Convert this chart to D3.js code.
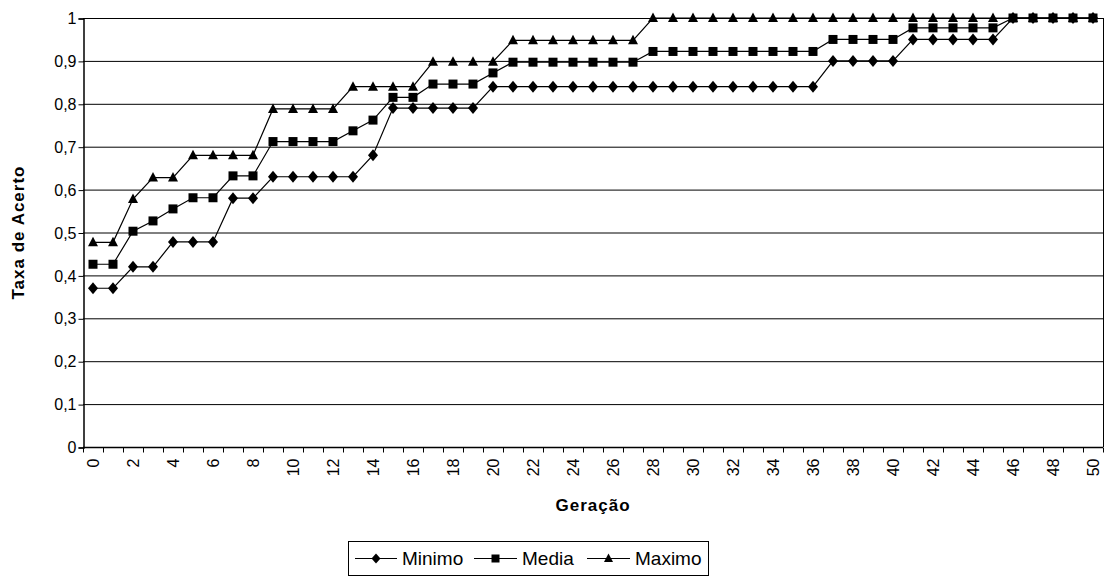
<!DOCTYPE html>
<html><head><meta charset="utf-8">
<script src="https://cdn.jsdelivr.net/npm/d3@7"></script>
<style>body{margin:0;background:#fff}svg{display:block}text{font-family:"Liberation Sans",Arial,sans-serif;fill:#000}</style>
</head><body><svg id="c" width="1105" height="579"></svg>
<script>
const geracao = d3.range(0, 51);
const minimo = [0.37,0.37,0.42,0.42,0.478,0.478,0.478,0.58,0.58,0.63,0.63,0.63,0.63,0.63,0.68,0.79,0.79,0.79,0.79,0.79,0.84,0.84,0.84,0.84,0.84,0.84,0.84,0.84,0.84,0.84,0.84,0.84,0.84,0.84,0.84,0.84,0.84,0.9,0.9,0.9,0.9,0.95,0.95,0.95,0.95,0.95,1,1,1,1,1];
const media = [0.426,0.426,0.503,0.527,0.555,0.581,0.581,0.632,0.632,0.712,0.712,0.712,0.712,0.737,0.762,0.815,0.815,0.846,0.846,0.846,0.872,0.897,0.897,0.897,0.897,0.897,0.897,0.897,0.922,0.922,0.922,0.922,0.922,0.922,0.922,0.922,0.922,0.95,0.95,0.95,0.95,0.977,0.977,0.977,0.977,0.977,1,1,1,1,1];
const maximo = [0.477,0.477,0.578,0.628,0.628,0.68,0.68,0.68,0.68,0.788,0.788,0.788,0.788,0.84,0.84,0.84,0.84,0.898,0.898,0.898,0.898,0.948,0.948,0.948,0.948,0.948,0.948,0.948,1,1,1,1,1,1,1,1,1,1,1,1,1,1,1,1,1,1,1,1,1,1,1];
const yTicks = [0,0.1,0.2,0.3,0.4,0.5,0.6,0.7,0.8,0.9,1];
const seriesNames = ["Minimo","Media","Maximo"];
const seriesShapes = ["diamond","square","triangle"];
const seriesData = [minimo, media, maximo];

const svg = d3.select("#c");
const L = 83, R = 1103, T = 18, B = 447;
const x = d3.scaleBand().domain(geracao).range([L, R]).padding(0);
const cx = d => x(d) + x.bandwidth()/2;
const y = d3.scaleLinear().domain([0,1]).range([B, T]);
const fmt = v => String(v).replace(".", ",");

const shapes = {
  diamond: "M0,-6L5,0L0,6L-5,0Z",
  square: "M-4.5,-4.5H4.5V4.5H-4.5Z",
  triangle: "M0,-5.5L5,4L-5,4Z"
};
const legendShapes = {
  diamond: "M0,-5L4.5,0L0,5L-4.5,0Z",
  square: "M-4,-4H4V4H-4Z",
  triangle: "M0,-5L4.5,3.5L-4.5,3.5Z"
};

// gridlines
svg.append("g").selectAll("line").data(yTicks.filter(v => v > 0)).join("line")
  .attr("x1", L).attr("x2", R).attr("y1", d => y(d)+0.5).attr("y2", d => y(d)+0.5)
  .attr("stroke", "#000").attr("stroke-width", 1);
// right border
svg.append("line").attr("x1", R+0.5).attr("x2", R+0.5).attr("y1", T).attr("y2", B)
  .attr("stroke", "#000").attr("stroke-width", 1);

// y axis
const yAxis = d3.axisLeft(y).tickValues(yTicks).tickFormat(fmt).tickSize(5).tickPadding(2);
const gy = svg.append("g").attr("transform", `translate(${L+0.5},0.5)`).call(yAxis);
gy.select(".domain").attr("stroke", "#000").attr("stroke-width", 1.5);
gy.selectAll("text").attr("font-size", 16).style("font-family", "Liberation Sans, Arial, sans-serif");

// x axis: ticks at category boundaries
const gx = svg.append("g").attr("transform", `translate(0,${B+0.5})`);
gx.append("line").attr("x1", L).attr("x2", R).attr("stroke", "#000").attr("stroke-width", 1.5);
const bounds = geracao.map(d => x(d)).concat([R]);
gx.selectAll("line.t").data(bounds).join("line").attr("class","t")
  .attr("x1", d => Math.round(d)+0.5).attr("x2", d => Math.round(d)+0.5).attr("y1", 0).attr("y2", 5)
  .attr("stroke", "#000");
gx.selectAll("text").data(geracao.filter(d => d % 2 === 0)).join("text")
  .attr("transform", d => `translate(${cx(d)+6},11) rotate(-90)`)
  .attr("text-anchor", "end").attr("font-size", 16).text(d => d);

// axis titles
svg.append("text").attr("x", (L+R)/2).attr("y", 511).attr("text-anchor", "middle")
  .attr("font-size", 17).attr("font-weight", "bold").attr("letter-spacing", 1).text("Geração");
svg.append("text").attr("transform", `translate(24,${(T+B)/2}) rotate(-90)`).attr("text-anchor", "middle")
  .attr("font-size", 17).attr("font-weight", "bold").attr("letter-spacing", 1).text("Taxa de Acerto");

// series
const line = d3.line().x((d,i) => cx(geracao[i])).y(d => y(d));
seriesData.forEach((vals, k) => {
  svg.append("path").datum(vals).attr("d", line).attr("fill", "none")
    .attr("stroke", "#000").attr("stroke-width", 1.2);
});
seriesData.forEach((vals, k) => {
  svg.append("g").selectAll("path").data(vals).join("path")
    .attr("d", shapes[seriesShapes[k]])
    .attr("transform", (d,i) => `translate(${cx(geracao[i])},${y(d)})`)
    .attr("fill", "#000");
});

// legend
const lg = svg.append("g");
lg.append("rect").attr("x", 348.5).attr("y", 541.5).attr("width", 360).attr("height", 34)
  .attr("fill", "#fff").attr("stroke", "#000");
const lx = [355, 474, 587];
const lw = [42, 43, 43];
seriesNames.forEach((n, k) => {
  const g = lg.append("g");
  g.append("line").attr("x1", lx[k]).attr("x2", lx[k]+lw[k]).attr("y1", 558.5).attr("y2", 558.5)
    .attr("stroke", "#000").attr("stroke-width", 1.2);
  g.append("path").attr("d", legendShapes[seriesShapes[k]])
    .attr("transform", `translate(${lx[k]+lw[k]/2},558.5)`).attr("fill", "#000");
  g.append("text").attr("x", lx[k]+lw[k]+5).attr("y", 565).attr("font-size", 19).text(n);
});
</script></body></html>
